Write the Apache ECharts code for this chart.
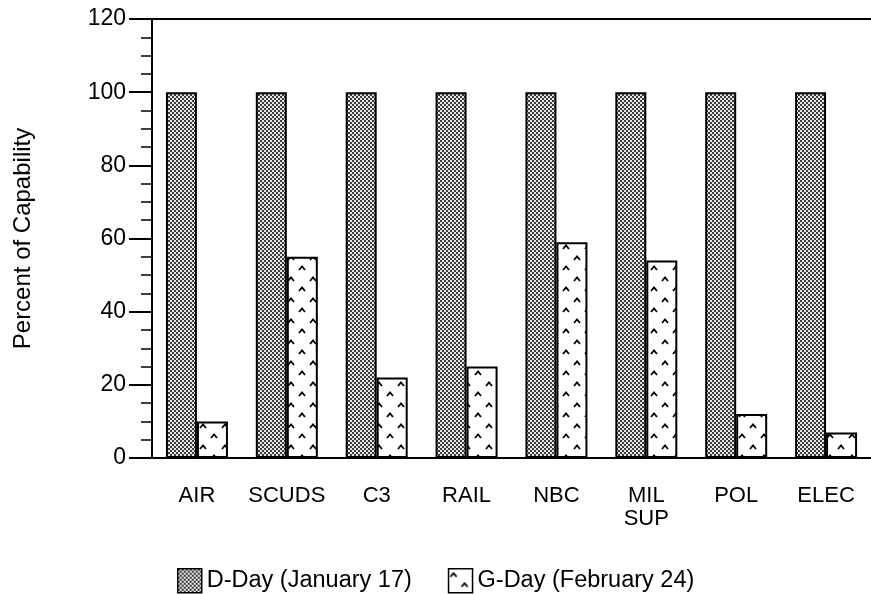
<!DOCTYPE html>
<html>
<head>
<meta charset="utf-8">
<script src="https://cdn.jsdelivr.net/npm/echarts@6/dist/echarts.min.js"></script>
<style>
  html, body { margin: 0; padding: 0; background: #fff; }
  #myChart { width: 871px; height: 594px; }
</style>
</head>
<body>
<div id="myChart"></div>
<script>
// 数据
var categories = ['AIR', 'SCUDS', 'C3', 'RAIL', 'NBC', 'MIL\nSUP', 'POL', 'ELEC']
var dDayValues = [100, 100, 100, 100, 100, 100, 100, 100]
var gDayValues = [10, 55, 22, 25, 59, 54, 12, 7]
var yTicks = [0, 20, 40, 60, 80, 100, 120]
var seriesNames = ['D-Day (January 17)', 'G-Day (February 24)']

var fontName = '"Liberation Sans", Arial, Helvetica, sans-serif'

// 网点填充 (D-Day)
function makeDotPattern() {
  var c = document.createElement('canvas')
  c.width = 4
  c.height = 4
  var ctx = c.getContext('2d')
  ctx.fillStyle = '#e4e4e4'
  ctx.fillRect(0, 0, 4, 4)
  ctx.fillStyle = '#3c3c3c'
  ctx.fillRect(0, 0, 2, 2)
  ctx.fillRect(2, 2, 2, 2)
  return c
}

// 小箭头填充 (G-Day)
function makeChevronPattern() {
  var c = document.createElement('canvas')
  c.width = 22
  c.height = 21
  var ctx = c.getContext('2d')
  ctx.fillStyle = '#ffffff'
  ctx.fillRect(0, 0, 22, 21)
  ctx.strokeStyle = '#000'
  ctx.lineWidth = 1.8
  var pts = [[5, 6], [16, 16]]
  for (var i = 0; i < pts.length; i++) {
    var x = pts[i][0], y = pts[i][1]
    ctx.beginPath()
    ctx.moveTo(x - 3, y + 2)
    ctx.lineTo(x, y - 1.5)
    ctx.lineTo(x + 3, y + 2)
    ctx.stroke()
  }
  return c
}

var myChart = echarts.init(document.getElementById('myChart'))
myChart.setOption({
  backgroundColor: '#fff',
  animation: false,
  textStyle: { fontFamily: fontName, color: '#000' },
  legend: {
    left: 172,
    top: 563,
    icon: 'rect',
    itemWidth: 24,
    itemHeight: 24,
    itemGap: 36,
    textStyle: { fontSize: 23.5, color: '#000', fontFamily: fontName },
    itemStyle: { borderColor: '#000', borderWidth: 1.5 },
    data: seriesNames
  },
  grid: {
    left: 152,
    top: 19,
    width: 730,
    height: 439
  },
  xAxis: [
    {
      type: 'category',
      data: categories,
      axisLine: { lineStyle: { color: '#000', width: 2 } },
      axisTick: { show: false },
      axisLabel: {
        interval: 0,
        color: '#000',
        fontSize: 22,
        margin: 26,
        lineHeight: 23,
        fontFamily: fontName
      }
    },
    {
      type: 'category',
      position: 'top',
      data: categories,
      axisLine: { lineStyle: { color: '#000', width: 2 } },
      axisTick: { show: false },
      axisLabel: { show: false }
    }
  ],
  yAxis: {
    type: 'value',
    min: yTicks[0],
    max: yTicks[yTicks.length - 1],
    interval: 20,
    name: 'Percent of Capability',
    nameLocation: 'middle',
    nameGap: 117,
    nameTextStyle: { fontSize: 24, color: '#000', fontFamily: fontName },
    axisLine: { show: true, lineStyle: { color: '#000', width: 2 } },
    axisTick: { show: true, length: 23, lineStyle: { color: '#000', width: 2 } },
    minorTick: { show: true, splitNumber: 4, length: 11, lineStyle: { color: '#000', width: 1.5 } },
    splitLine: { show: false },
    axisLabel: { color: '#000', fontSize: 23, margin: 26, fontFamily: fontName }
  },
  series: [
    {
      name: seriesNames[0],
      type: 'bar',
      barWidth: 31,
      barGap: '0%',
      data: dDayValues,
      itemStyle: {
        color: { image: makeDotPattern(), repeat: 'repeat' },
        borderColor: '#000',
        borderWidth: 2
      }
    },
    {
      name: seriesNames[1],
      type: 'bar',
      barWidth: 31,
      barGap: '0%',
      data: gDayValues,
      itemStyle: {
        color: { image: makeChevronPattern(), repeat: 'repeat' },
        borderColor: '#000',
        borderWidth: 2
      }
    }
  ]
})
</script>
</body>
</html>
